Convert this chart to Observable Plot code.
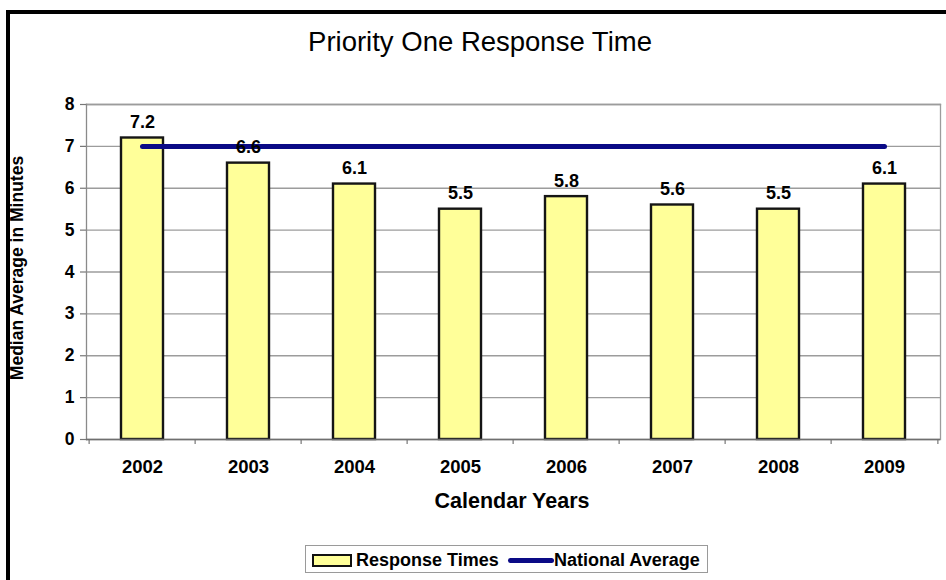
<!DOCTYPE html>
<html>
<head>
<meta charset="utf-8">
<script src="https://cdn.jsdelivr.net/npm/d3@7"></script>
<script src="https://cdn.jsdelivr.net/npm/@observablehq/plot@0.6"></script>
<style>
  body { margin: 0; background: #fff; }
  #chart {
    position: relative; width: 946px; height: 580px; overflow: hidden;
    background: #fff; font-family: "Liberation Sans", Arial, sans-serif; color: #000;
  }
  #frame {
    position: absolute; left: 6px; top: 10px; right: -4px; bottom: -4px;
    border-top: 4px solid #000; border-left: 4px solid #000;
  }
  #title {
    position: absolute; left: 480px; top: 26px; transform: translateX(-50%);
    font-size: 27.5px; white-space: nowrap;
  }
  #plot { position: absolute; left: 0; top: 60px; }
  #xtitle {
    position: absolute; left: 512px; top: 489px; transform: translateX(-50%);
    font-size: 21.5px; font-weight: bold; white-space: nowrap;
  }
  #ytitle {
    position: absolute; left: 17px; top: 268px;
    transform: translate(-50%, -50%) rotate(-90deg);
    font-size: 17.5px; font-weight: bold; white-space: nowrap;
  }
  #legend {
    position: absolute; left: 305px; top: 545px; width: 403px; height: 28px;
    border: 1px solid #9a9a9a; box-sizing: border-box;
    font-size: 18px; font-weight: bold; white-space: nowrap;
  }
  #legend .item { position: absolute; top: 3px; line-height: 22px; }
  #legend .swatch-bar {
    position: absolute; left: 6px; top: 8px; width: 36px; height: 9px;
    background: #ffff99; border: 2px solid #111;
  }
  #legend .swatch-line {
    position: absolute; left: 202px; top: 12px; width: 46px; height: 5px;
    background: #0a0a86; border-radius: 3px;
  }
</style>
</head>
<body>
<div id="chart">
  <div id="frame"></div>
  <div id="title">Priority One Response Time</div>
  <div id="plot"></div>
  <div id="xtitle">Calendar Years</div>
  <div id="ytitle">Median Average in Minutes</div>
  <div id="legend">
    <div class="swatch-bar"></div>
    <div class="item" style="left:50px">Response Times</div>
    <div class="swatch-line"></div>
    <div class="item" style="left:248px">National Average</div>
  </div>
</div>
<script>
// Priority one median response times by calendar year (minutes)
const years = ["2002", "2003", "2004", "2005", "2006", "2007", "2008", "2009"];
const responseTimes = [7.2, 6.6, 6.1, 5.5, 5.8, 5.6, 5.5, 6.1];
const nationalAverage = [7, 7, 7, 7, 7, 7, 7, 7];
const yTicks = [0, 1, 2, 3, 4, 5, 6, 7, 8];

const bars = years.map((year, i) => ({year, value: responseTimes[i]}));
const national = years.map((year, i) => ({year, value: nationalAverage[i]}));

const width = 946, height = 460;
const marginLeft = 86, marginRight = 6, marginTop = 44, marginBottom = 81;
const paddingInner = 0.6, paddingOuter = 0.3;
// band step, used to put the x tick marks on the category boundaries
const step = (width - marginLeft - marginRight) / (years.length - paddingInner + 2 * paddingOuter);
const lastYear = [years[years.length - 1]];

const font = `"Liberation Sans", Arial, sans-serif`;

const chart = Plot.plot({
  width, height, marginLeft, marginRight, marginTop, marginBottom,
  style: {fontFamily: font, background: "transparent", overflow: "visible"},
  x: {type: "band", domain: years, paddingInner, paddingOuter, align: 0.5, axis: null},
  y: {type: "linear", domain: [0, 8], axis: null},
  marks: [
    // horizontal gridlines
    Plot.gridY(yTicks, {stroke: "#9c9c9c", strokeOpacity: 1, strokeWidth: 1.3}),
    // plot area frame (top, right and left)
    Plot.frame({anchor: "top", stroke: "#9c9c9c", strokeWidth: 1.3}),
    Plot.frame({anchor: "right", stroke: "#9c9c9c", strokeWidth: 1.3}),
    Plot.frame({anchor: "left", stroke: "#8a8a8a", strokeWidth: 1.3}),
    // y axis tick marks (labels drawn below)
    Plot.axisY({ticks: yTicks, tickSize: 6, tickFormat: () => "", label: null, stroke: "#777", strokeWidth: 1.2}),
    // y axis tick labels
    Plot.text(yTicks, {
      y: d => d, text: d => String(d), frameAnchor: "left", textAnchor: "end", dx: -12,
      fontSize: 17.5, fontWeight: "bold", fill: "#000"
    }),
    // x axis tick labels
    Plot.axisX({tickSize: 0, tickPadding: 20, fontSize: 18.5, fontWeight: "bold", label: null, fill: "#000"}),
    // x axis tick marks on the category boundaries
    Plot.ruleX(years, {x: d => d, y1: 0, y2: 0, dx: -step / 2, stroke: "#777", strokeWidth: 1.2, insetBottom: -5}),
    Plot.ruleX(lastYear, {x: d => d, y1: 0, y2: 0, dx: step / 2, stroke: "#777", strokeWidth: 1.2, insetBottom: -5}),
    // response time bars
    Plot.barY(bars, {x: "year", y: "value", fill: "#ffff99", stroke: "#151515", strokeWidth: 2.4}),
    // baseline
    Plot.ruleY([0], {stroke: "#6f6f6f", strokeWidth: 1.6}),
    // national average
    Plot.line(national, {x: "year", y: "value", stroke: "#0a0a86", strokeWidth: 5, strokeLinecap: "round"}),
    // value labels
    Plot.text(bars, {
      x: "year", y: "value", text: d => d.value.toFixed(1), lineAnchor: "bottom", dy: -10,
      fontSize: 18, fontWeight: "bold", fill: "#000"
    })
  ]
});
document.getElementById("plot").appendChild(chart);
</script>
</body>
</html>
